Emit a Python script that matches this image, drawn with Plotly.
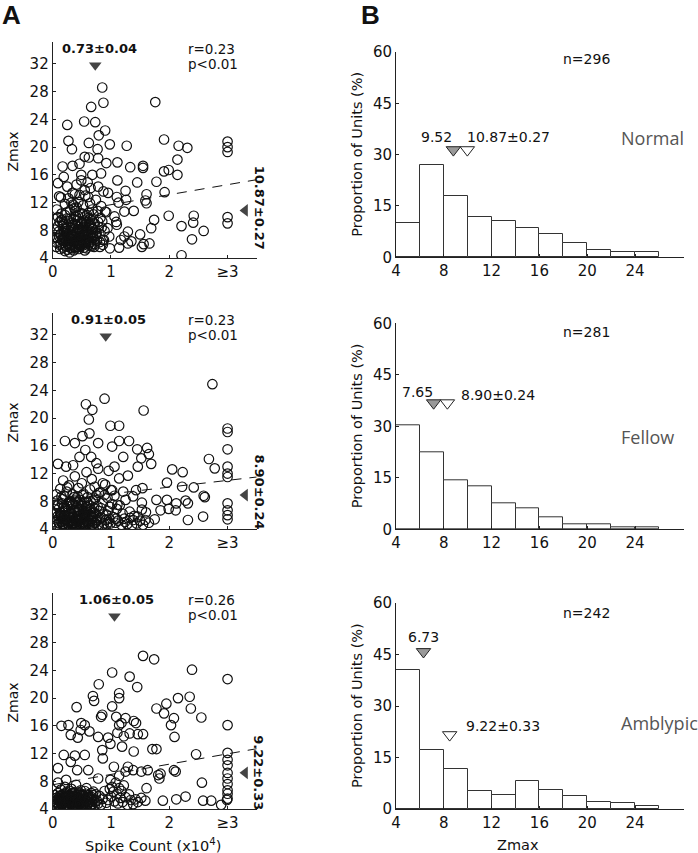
import plotly.graph_objects as go

W, H = 698, 853
FONT = "DejaVu Sans"

# ---------------- data: scatter panels (spike count x10^4, Zmax) ----------------
normal_x = [0.85,0.87,0.66,1.76,0.25,0.54,0.73,0.90,0.79,0.27,0.33,0.62,0.77,0.98,1.27,1.91,2.16,2.31,3.0,3.0,3.0,
            0.55,0.62,0.78,0.17,0.34,0.46,0.92,1.11,1.33,1.55,1.55,2.14,1.91,1.99,2.14,0.19,0.49,0.68,0.83,1.11,1.45,1.78,
            0.09,0.25,0.14,0.38,0.55,0.78,0.95,1.10,1.25,1.61,1.59,1.92,1.26,1.13,1.39,1.61,0.92,1.06,1.09,1.23,1.74,1.99,
            1.69,2.21,2.42,2.41,2.59,2.39,3.0,3.0,2.21,1.50,1.56,1.66,1.35,1.23,1.17,1.14,1.29,0.94,0.97,0.81,0.98,0.75,0.86,
            1.10,1.29,1.53,
            0.05,0.08,0.10,0.12,0.14,0.15,0.17,0.18,0.20,0.21,0.22,0.24,0.25,0.26,0.27,0.28,0.29,0.30,0.31,0.32,0.33,0.34,
            0.35,0.36,0.37,0.38,0.39,0.40,0.41,0.42,0.43,0.44,0.45,0.46,0.47,0.48,0.49,0.50,0.51,0.52,0.53,0.54,0.55,0.56,
            0.57,0.58,0.59,0.60,0.61,0.62,0.63,0.64,0.65,0.66,0.67,0.68,0.69,0.70,0.72,0.74,0.75,0.77,0.79,0.81,0.83,0.85,
            0.87,0.89,
            0.06,0.09,0.11,0.13,0.16,0.19,0.21,0.23,0.24,0.26,0.28,0.30,0.31,0.33,0.35,0.36,0.38,0.40,0.42,0.43,0.45,0.47,
            0.48,0.50,0.52,0.54,0.55,0.57,0.59,0.61,0.63,0.65,0.67,0.69,0.71,0.73,0.76,0.78,0.80,0.84,0.88,0.03,0.07,0.12,
            0.16,0.19,0.22,0.27,0.29,0.32,0.34,0.37,0.39,0.41,0.44,0.46,0.49,0.51,0.53,0.56,0.58,0.60,0.62,0.64,0.66,0.70,
            0.72,0.74,0.82,0.86,0.90,
            0.07,0.09,0.11,0.13,0.15,0.17,0.19,0.21,0.23,0.25,0.27,0.29,0.31,0.33,0.35,0.37,0.39,0.41,0.43,0.45,0.47,0.49,
            0.51,0.53,0.55,0.57,0.59,0.61,0.63,0.65,0.67,0.69,0.14,0.18,0.22,0.26,0.30,0.34,0.38,0.42,0.46,0.50,0.54,0.58,
            0.62,0.66,0.20,0.28,0.36,0.44]
normal_y = [28.6,26.4,25.8,26.5,23.2,23.7,23.6,22.4,21.7,20.9,19.7,20.6,19.7,20.4,20.2,21.1,20.2,19.9,20.8,20.0,19.3,
            18.6,18.5,18.4,17.2,17.3,17.6,17.7,17.8,17.1,17.3,17.0,18.2,16.5,16.7,16.0,15.7,16.0,16.0,16.2,15.2,14.9,15.0,
            14.8,14.3,12.75,13.2,13.8,14.3,13.4,12.8,13.7,13.2,12.3,13.5,12.4,12.0,10.8,11.9,10.6,10.0,9.2,10.7,9.5,10.1,
            8.3,8.6,10.1,9.1,7.9,6.7,9.9,9.0,4.4,7.4,6.0,6.1,6.4,7.1,6.6,5.5,7.8,8.3,7.1,5.6,5.4,7.6,6.6,
            8.8,6.1,5.6,
            8.1,6.9,7.8,9.2,6.1,10.4,8.6,5.5,7.2,11.8,6.4,9.7,5.2,8.0,12.6,6.8,4.8,10.9,7.5,5.9,9.1,13.4,
            6.3,8.4,11.2,5.6,7.0,9.9,14.6,6.0,8.8,12.1,5.3,7.7,10.5,6.6,15.2,8.3,5.8,11.6,7.3,9.4,6.2,13.0,
            8.0,5.4,10.2,7.1,12.8,8.7,6.5,9.6,14.1,7.4,5.7,11.0,8.2,6.9,9.0,12.4,7.6,10.8,8.5,6.3,11.5,9.3,
            13.6,7.9,
            5.6,9.9,12.9,7.4,6.7,8.9,5.0,7.6,10.6,6.1,9.3,5.5,8.3,6.7,11.7,5.1,8.9,6.4,7.8,10.1,6.9,5.9,
            9.0,6.0,8.5,5.5,10.0,6.8,7.9,5.8,8.9,6.3,9.5,7.2,5.6,8.0,6.5,9.2,7.5,8.4,6.6,7.0,11.0,5.9,
            9.4,6.9,8.2,7.1,6.4,12.0,7.3,9.6,5.4,11.3,8.1,13.1,7.0,10.4,6.2,7.4,9.1,14.9,6.1,11.9,8.6,10.3,
            6.0,7.2,9.8,5.9,10.7,
            6.2,8.6,7.1,5.3,9.5,6.5,7.9,10.2,5.7,8.8,6.0,7.3,9.7,5.4,8.1,6.6,10.8,7.6,5.9,8.5,7.0,9.2,
            6.4,7.8,5.1,8.9,6.7,9.8,7.3,5.8,8.3,7.7,7.5,9.1,5.8,7.4,6.7,8.8,6.2,9.4,6.0,7.6,8.4,6.3,
            10.5,7.0,6.5,5.7,7.2,5.6]

fellow_x = [2.74,0.89,0.57,0.68,0.62,1.56,0.99,1.14,3.0,3.0,0.21,0.38,0.51,0.63,0.78,1.14,1.31,1.02,1.45,1.62,1.65,
            1.69,1.52,1.21,3.0,2.68,2.78,3.0,3.0,3.0,2.05,2.23,1.96,2.22,2.42,2.59,2.61,1.78,1.96,2.12,2.32,2.28,1.85,
            1.99,2.11,2.32,2.58,3.0,3.0,3.0,3.0,1.75,1.53,1.53,1.46,1.32,1.59,1.38,1.43,1.54,1.46,1.29,1.14,1.06,0.96,
            0.86,1.02,1.21,1.25,1.11,1.23,1.09,1.38,0.75,0.56,0.66,0.46,0.09,0.23,0.35,
            0.03,0.05,0.07,0.08,0.10,0.11,0.12,0.13,0.14,0.15,0.16,0.17,0.18,0.19,0.20,0.21,0.22,0.23,0.24,0.25,0.26,
            0.27,0.28,0.29,0.30,0.31,0.32,0.33,0.34,0.35,0.36,0.37,0.38,0.39,0.40,0.41,0.42,0.43,0.44,0.45,0.46,0.47,
            0.48,0.49,0.50,0.51,0.52,0.53,0.54,0.55,0.56,0.57,0.58,0.59,0.60,0.61,0.62,0.63,0.64,0.65,0.66,0.67,0.68,
            0.69,0.70,0.71,0.72,0.73,0.74,0.75,0.76,0.77,0.78,0.79,0.80,0.82,0.84,0.86,0.88,0.90,0.92,0.94,0.96,0.98,
            1.00,
            0.04,0.06,0.09,0.11,0.13,0.15,0.17,0.19,0.21,0.23,0.25,0.27,0.29,0.31,0.33,0.35,0.37,0.39,0.41,0.43,0.45,
            0.47,0.49,0.51,0.53,0.55,0.57,0.59,0.61,0.63,0.65,0.67,0.69,0.71,0.73,0.75,0.77,0.79,0.81,0.83,0.85,0.87,
            0.89,0.91,0.93,0.95,0.97,0.99,1.02,1.04,1.06,1.08,1.10,1.12,1.15,1.18,1.20,1.24,1.28,1.33,1.36,1.40,1.44,
            1.50,1.55,1.60,1.65,
            0.07,0.09,0.11,0.13,0.15,0.17,0.19,0.21,0.23,0.25,0.27,0.29,0.31,0.33,0.35,0.37,0.39,0.41,0.43,0.45,0.47,0.49,
            0.51,0.53,0.55,0.57,0.59,0.61,0.63,0.65,0.67,0.69,0.14,0.18,0.22,0.26,0.30,0.34,0.38,0.42,0.46,0.50,0.54,0.58,
            0.62,0.66,0.20,0.28,0.36,0.44]
fellow_y = [24.9,22.8,22.0,21.2,19.8,21.1,18.9,18.9,18.5,18.0,16.7,16.4,17.4,17.8,16.4,16.7,16.7,15.9,15.5,15.7,14.8,
            13.4,14.2,14.4,15.5,14.1,12.75,13.0,12.0,11.5,12.6,12.2,10.7,10.1,10.0,8.8,8.6,8.2,8.2,7.7,7.7,8.1,6.7,
            6.9,6.7,5.3,5.8,7.7,6.7,6.0,5.4,5.4,7.8,6.8,5.8,6.5,5.3,8.7,9.6,9.9,13.0,11.7,11.3,13.0,12.4,
            10.6,9.6,9.4,8.2,7.5,5.5,5.5,5.3,13.5,15.4,14.4,14.4,13.4,13.0,13.2,
            5.0,6.3,4.6,8.1,5.5,7.0,4.4,9.8,6.0,5.1,7.7,4.7,11.0,5.8,8.8,4.5,6.6,5.3,9.4,7.3,4.8,
            6.1,10.3,5.6,8.0,4.4,6.9,5.2,9.0,7.6,4.9,6.4,11.6,5.5,8.4,4.6,7.1,5.9,9.9,6.7,4.5,8.2,
            5.4,7.4,10.6,4.8,6.3,9.1,5.7,7.9,4.4,6.8,12.2,5.1,8.6,6.0,4.7,7.5,9.7,5.4,6.5,11.2,4.6,
            8.1,5.9,7.0,10.1,4.9,6.2,8.9,5.3,7.3,12.7,4.5,6.6,9.3,5.6,7.8,4.8,10.4,6.1,8.5,5.0,7.2,
            9.6,
            7.4,9.0,5.9,4.8,6.4,8.7,5.4,7.2,6.0,4.4,10.0,5.0,7.9,6.3,4.7,5.8,8.6,4.4,6.5,7.8,5.2,
            4.6,6.1,8.9,5.0,6.0,4.6,7.1,5.3,4.5,8.0,5.8,4.4,6.4,8.4,5.1,4.6,9.2,5.5,7.0,4.5,6.1,
            8.9,5.3,4.7,6.6,5.5,4.8,7.6,5.7,8.8,4.9,6.9,5.2,7.4,4.6,6.2,5.0,4.7,5.6,4.5,5.9,4.8,
            5.2,4.6,6.4,4.9,
            5.3,7.4,4.9,6.1,5.6,8.3,4.7,6.8,5.4,7.6,4.5,6.2,5.0,7.9,5.7,4.6,6.6,5.2,8.7,4.8,6.0,5.5,
            7.3,4.6,6.4,5.1,7.8,4.9,5.9,6.9,4.5,5.6,5.8,4.7,7.0,5.2,6.3,4.9,8.1,5.5,6.7,4.6,5.9,7.2,
            5.0,6.0,5.4,7.7,4.8,6.5]

amblyopic_x = [1.55,1.74,1.02,2.39,3.0,1.32,1.45,0.79,0.69,0.71,1.14,1.14,0.41,1.02,0.83,0.85,1.09,1.25,1.39,1.43,
               1.14,1.18,0.15,0.27,0.49,0.55,0.48,0.63,0.31,0.43,0.78,0.95,1.11,1.22,1.32,1.46,1.55,1.78,1.95,2.15,
               2.35,2.37,2.55,1.91,2.08,2.03,2.09,3.0,1.71,1.78,2.46,3.0,3.0,3.0,3.0,3.0,3.0,3.0,3.0,3.0,2.89,2.99,
               2.56,2.58,2.72,2.28,2.12,1.89,1.59,2.08,2.11,1.81,1.83,1.85,1.61,1.63,1.52,1.38,1.29,1.25,1.39,1.19,
               0.99,0.85,0.55,0.38,0.19,0.31,0.09,0.42,0.61,0.86,1.05,1.14,0.09,0.23,0.78,0.99,
               0.03,0.05,0.06,0.08,0.09,0.10,0.11,0.12,0.13,0.14,0.15,0.16,0.17,0.18,0.19,0.20,0.21,0.22,0.23,0.24,
               0.25,0.26,0.27,0.28,0.29,0.30,0.31,0.32,0.33,0.34,0.35,0.36,0.37,0.38,0.39,0.40,0.41,0.42,0.43,0.44,
               0.45,0.46,0.47,0.48,0.49,0.50,0.52,0.54,0.56,0.58,0.60,0.62,0.64,0.66,0.68,0.70,0.72,0.74,0.76,0.78,
               0.80,0.83,0.86,0.89,0.92,0.95,0.98,1.00,1.02,1.04,1.06,1.08,1.10,1.12,1.14,1.16,1.18,1.20,1.22,1.25,
               1.28,1.31,1.34,1.38,1.42,1.46,1.52,
               0.04,0.07,0.10,0.13,0.16,0.19,0.22,0.25,0.28,0.31,0.34,0.37,0.40,0.43,0.46,0.49,0.52,0.55,0.58,0.61,
               0.64,0.67,0.70,0.73,
               0.07,0.09,0.11,0.13,0.15,0.17,0.19,0.21,0.23,0.25,0.27,0.29,0.31,0.33,0.35,0.37,0.39,0.41,0.43,0.45,
               0.47,0.49,0.51,0.53,0.55,0.57,0.59,0.61,0.63,0.65,0.67,0.69,0.14,0.18,0.22,0.26,0.30,0.34,0.38,0.42,
               0.46,0.50,0.54,0.58,0.62,0.66,0.20,0.28,0.36,0.44]
amblyopic_y = [26.1,25.6,23.7,24.1,22.75,23.1,21.6,22.0,20.3,19.6,20.7,20.0,18.7,18.8,17.3,17.6,17.3,17.1,16.7,16.4,
               16.1,16.4,16.0,16.1,16.4,16.1,15.4,15.2,14.7,14.3,14.4,14.3,15.0,14.5,14.9,14.8,14.8,18.5,19.2,20.0,
               20.2,18.5,17.2,17.8,17.1,16.1,14.4,16.1,12.65,12.65,11.9,12.1,11.1,10.3,9.2,8.4,7.6,6.7,6.2,5.5,4.6,5.3,
               7.8,5.2,5.2,5.8,5.4,5.2,5.2,9.6,9.4,8.9,8.4,9.1,7.0,9.6,9.4,9.6,10.1,9.4,12.3,13.0,
               13.4,12.5,11.8,11.7,11.8,10.8,9.9,9.6,9.6,11.3,10.1,8.8,7.8,8.2,8.4,8.2,
               5.0,4.6,5.6,4.8,6.3,5.2,4.5,5.9,4.9,6.8,5.4,4.6,6.1,5.0,4.4,5.7,7.2,4.8,5.3,6.5,
               4.6,5.8,5.1,4.4,6.0,5.5,4.7,6.9,5.2,4.5,5.9,5.0,6.4,4.6,5.4,7.5,4.9,5.7,4.4,6.2,
               5.1,4.7,5.6,6.7,4.5,5.3,6.0,4.8,5.5,7.0,4.6,5.8,5.0,6.3,4.7,5.4,4.5,6.1,5.2,4.8,
               5.9,4.6,5.5,6.6,4.9,5.3,6.9,5.8,7.2,6.5,5.1,7.8,6.2,4.8,7.0,5.6,6.6,5.0,7.4,5.7,
               4.6,6.1,5.3,4.7,5.4,5.0,5.6,
               6.0,5.3,4.4,5.6,5.9,5.1,6.1,5.6,5.2,5.8,6.3,4.5,5.1,5.5,6.0,5.0,4.6,6.6,5.1,6.0,
               4.4,5.7,6.5,5.0,
               4.9,5.5,4.6,5.2,6.0,4.7,5.4,5.0,6.3,4.5,5.7,4.9,5.3,6.1,4.6,5.8,5.1,4.4,5.6,6.4,
               4.8,5.2,5.9,4.5,5.5,6.2,4.7,5.0,5.7,4.6,5.3,6.0,4.8,5.4,4.5,5.1,6.6,4.9,5.8,4.6,
               5.3,6.1,4.7,5.0,5.5,4.4,5.9,5.2,6.3,4.8]

# regression line end points (x = 0 and x = 3.5)
fit_x = [0, 3.5]
normal_fit = [10.25, 15.3]
fellow_fit = [8.1, 11.5]
amblyopic_fit = [7.5, 12.7]

# means
spike_means = [0.73, 0.91, 1.06]
spike_labels = ["0.73±0.04", "0.91±0.05", "1.06±0.05"]
zmax_means = [10.87, 8.90, 9.22]
zmax_labels = ["10.87±0.27", "8.90±0.24", "9.22±0.33"]
r_labels = ["r=0.23", "r=0.23", "r=0.26"]
p_labels = ["p&lt;0.01", "p&lt;0.01", "p&lt;0.01"]

# ---------------- data: histograms ----------------
bin_centers = [5, 7, 9, 11, 13, 15, 17, 19, 21, 23, 25]
normal_pct = [9.9, 26.9, 17.8, 11.8, 10.7, 8.6, 6.7, 4.1, 2.1, 1.5, 1.5]
fellow_pct = [30.3, 22.4, 14.4, 12.4, 7.6, 6.0, 3.5, 1.5, 1.5, 0.5, 0.5]
amblyopic_pct = [40.6, 17.1, 11.7, 5.1, 4.2, 8.3, 5.4, 3.8, 2.1, 1.7, 0.9]
group_names = ["Normal", "Fellow", "Amblypic"]
n_labels = ["n=296", "n=281", "n=242"]
median_labels = ["9.52", "7.65", "6.73"]
# marker positions of the median (grey) and mean (open) triangles as drawn
median_mark_x = [8.8, 7.15, 6.3]
median_mark_y = [31.4, 36.8, 45.8]
mean_mark_x = [9.97, 8.3, 8.49]
mean_mark_y = [31.4, 36.8, 21.6]

scatter_x = [normal_x, fellow_x, amblyopic_x]
scatter_y = [normal_y, fellow_y, amblyopic_y]
fits = [normal_fit, fellow_fit, amblyopic_fit]
hists = [normal_pct, fellow_pct, amblyopic_pct]

# ---------------- layout geometry (pixels) ----------------
sc_x = (52.7, 256.7)
sc_rows = [(42, 258), (313, 529), (593, 809)]
hi_x = (396, 684)
hi_rows = [(52, 257.3), (323.3, 529.3), (603, 809)]


def xd(a, b):
    return [a / W, b / W]


def yd(top, bottom):
    return [1 - bottom / H, 1 - top / H]


fig = go.Figure()
AX = dict(showline=True, linecolor="#222", linewidth=1, ticks="inside", ticklen=3,
          tickcolor="#222", showgrid=False, zeroline=False, automargin=False,
          tickfont=dict(family=FONT, size=15, color="#111"), fixedrange=True)
layout = {}
annotations = []
ink = "#444"

for i in range(3):
    sx, sy = 2 * i + 1, 2 * i + 2
    xa = "x" if sx == 1 else f"x{sx}"
    ya = "y" if sx == 1 else f"y{sx}"
    xh, yh = f"x{sy}", f"y{sy}"
    top, bot = sc_rows[i]
    yscale = 6.93
    layout["xaxis" if sx == 1 else f"xaxis{sx}"] = dict(
        AX, domain=xd(*sc_x), range=[0, 3.5], anchor=ya,
        tickvals=[0, 1, 2, 3], ticktext=["0", "1", "2", "≥3"])
    layout["yaxis" if sx == 1 else f"yaxis{sx}"] = dict(
        AX, domain=yd(top, bot), range=[4, 4 + (bot - top) / yscale], anchor=xa,
        tickvals=[4, 8, 12, 16, 20, 24, 28, 32])
    htop, hbot = hi_rows[i]
    layout[f"xaxis{sy}"] = dict(AX, domain=xd(*hi_x), range=[4, 28.1], anchor=yh,
                                tickvals=[4, 8, 12, 16, 20, 24])
    layout[f"yaxis{sy}"] = dict(AX, domain=yd(htop, hbot), range=[0, 60], anchor=xh,
                                tickvals=[0, 15, 30, 45, 60])

    # scatter
    fig.add_trace(go.Scatter(x=fit_x, y=fits[i], mode="lines", xaxis=xa, yaxis=ya,
                             line=dict(color="#111", width=1, dash="10px,8px"),
                             showlegend=False, hoverinfo="skip"))
    fig.add_trace(go.Scatter(x=scatter_x[i], y=scatter_y[i], mode="markers", xaxis=xa, yaxis=ya,
                             marker=dict(symbol="circle-open", size=9.5, color="#111",
                                         line=dict(width=1.2, color="#111")),
                             showlegend=False))
    fig.add_trace(go.Scatter(x=[spike_means[i]], y=[31.8], mode="markers", xaxis=xa, yaxis=ya,
                             marker=dict(symbol="triangle-down", size=11, color=ink,
                                         line=dict(width=0)),
                             showlegend=False, cliponaxis=False))
    fig.add_trace(go.Scatter(x=[3.3], y=[zmax_means[i]], mode="markers", xaxis=xa, yaxis=ya,
                             marker=dict(symbol="triangle-left", size=11, color=ink,
                                         line=dict(width=0)),
                             showlegend=False, cliponaxis=False))
    lbl_x = [0.81, 0.96, 1.09][i]
    annotations.append(dict(x=lbl_x, y=34.3, xref=xa, yref=ya, text=f"<b>{spike_labels[i]}</b>",
                            showarrow=False, font=dict(family=FONT, size=13, color="#111"),
                            xanchor="center", yanchor="middle"))
    annotations.append(dict(x=2.29, y=34.2, xref=xa, yref=ya, text=r_labels[i], showarrow=False,
                            font=dict(family=FONT, size=13.5, color="#111"),
                            xanchor="left", yanchor="middle"))
    annotations.append(dict(x=2.29, y=32.0, xref=xa, yref=ya, text=p_labels[i], showarrow=False,
                            font=dict(family=FONT, size=13.5, color="#111"),
                            xanchor="left", yanchor="middle"))
    rot_y = [11.26, 9.4, 9.3][i]
    rot_px = bot - (rot_y - 4) * yscale
    annotations.append(dict(x=259 / W, y=1 - rot_px / H, xref="paper", yref="paper",
                            text=f"<b>{zmax_labels[i]}</b>",
                            showarrow=False, textangle=90,
                            font=dict(family=FONT, size=13, color="#111"),
                            xanchor="center", yanchor="middle"))
    annotations.append(dict(x=12.5 / W, y=1 - ((top + bot) / 2 + 2) / H, xref="paper", yref="paper",
                            text="Zmax", showarrow=False, textangle=-90,
                            font=dict(family=FONT, size=14, color="#111"),
                            xanchor="center", yanchor="middle"))

    # histogram
    fig.add_trace(go.Bar(x=bin_centers, y=hists[i], width=2, xaxis=xh, yaxis=yh,
                         marker=dict(color="white", line=dict(color="#333", width=1)),
                         showlegend=False))
    fig.add_trace(go.Scatter(x=[median_mark_x[i]], y=[median_mark_y[i]], mode="markers",
                             xaxis=xh, yaxis=yh,
                             marker=dict(symbol="triangle-down", size=12.5, color="#999",
                                         line=dict(width=1, color="#222")),
                             showlegend=False))
    fig.add_trace(go.Scatter(x=[mean_mark_x[i]], y=[mean_mark_y[i]], mode="markers",
                             xaxis=xh, yaxis=yh,
                             marker=dict(symbol="triangle-down", size=12.5, color="white",
                                         line=dict(width=1, color="#222")),
                             showlegend=False))
    med_pos = [(7.4, 35.3), (5.76, 40.1), (6.29, 50.1)][i]
    mean_pos = [(9.77, 35.2), (9.27, 39.2), (9.69, 24.3)][i]
    annotations.append(dict(x=med_pos[0], y=med_pos[1], xref=xh, yref=yh, text=median_labels[i],
                            showarrow=False, font=dict(family=FONT, size=14, color="#111"),
                            xanchor="center", yanchor="middle"))
    annotations.append(dict(x=mean_pos[0], y=mean_pos[1], xref=xh, yref=yh, text=zmax_labels[i],
                            showarrow=False, font=dict(family=FONT, size=14, color="#111"),
                            xanchor="left", yanchor="middle"))
    n_y = [58.0, 57.6, 57.2][i]
    annotations.append(dict(x=19.9, y=n_y, xref=xh, yref=yh, text=n_labels[i], showarrow=False,
                            font=dict(family=FONT, size=14, color="#111"),
                            xanchor="center", yanchor="middle"))
    g_y = [34.9, 27.0, 25.0][i]
    annotations.append(dict(x=22.7, y=g_y, xref=xh, yref=yh, text=group_names[i], showarrow=False,
                            font=dict(family="Open Sans", size=18, color="#555"),
                            xanchor="left", yanchor="middle"))
    annotations.append(dict(x=357 / W, y=1 - ((htop + hbot) / 2) / H, xref="paper", yref="paper",
                            text="Proportion of Units (%)", showarrow=False, textangle=-90,
                            font=dict(family=FONT, size=14.5, color="#111"),
                            xanchor="center", yanchor="middle"))

annotations.append(dict(x=153 / W, y=1 - 845 / H, xref="paper", yref="paper",
                        text="Spike Count (x10<sup>4</sup>)", showarrow=False,
                        font=dict(family=FONT, size=14.5, color="#111"),
                        xanchor="center", yanchor="middle"))
annotations.append(dict(x=518 / W, y=1 - 845 / H, xref="paper", yref="paper",
                        text="Zmax", showarrow=False,
                        font=dict(family=FONT, size=14.5, color="#111"),
                        xanchor="center", yanchor="middle"))
annotations.append(dict(x=0, y=1 - 15 / H, xref="paper", yref="paper", text="<b>A</b>",
                        showarrow=False, font=dict(family="Liberation Sans", size=26, color="#111"),
                        xanchor="left", yanchor="middle"))
annotations.append(dict(x=359 / W, y=1 - 15 / H, xref="paper", yref="paper", text="<b>B</b>",
                        showarrow=False, font=dict(family="Liberation Sans", size=26, color="#111"),
                        xanchor="left", yanchor="middle"))

fig.update_layout(width=W, height=H, margin=dict(l=0, r=0, t=0, b=0, autoexpand=False),
                  paper_bgcolor="white", plot_bgcolor="white", bargap=0,
                  annotations=annotations, **layout)

fig.write_html("out.html", config={"displayModeBar": False},
               post_script="document.body.style.margin='0';document.body.style.overflow='hidden';")
